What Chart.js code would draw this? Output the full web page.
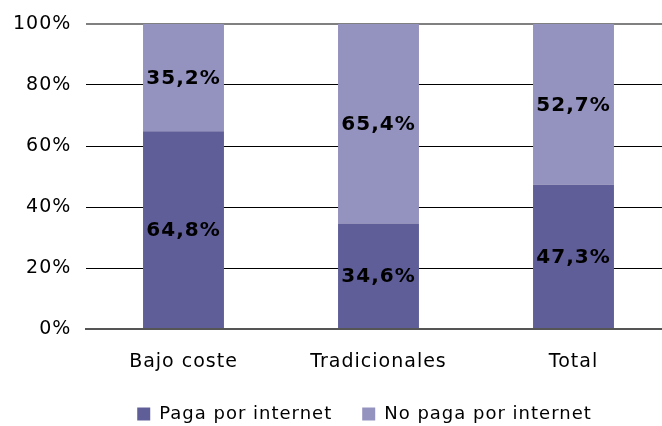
<!DOCTYPE html>
<html lang="es">
<head>
<meta charset="UTF-8">
<title>Paga por internet</title>
<script src="https://cdn.jsdelivr.net/npm/chart.js@4.4.1/dist/chart.umd.min.js"></script>
<style>
  html, body { margin: 0; padding: 0; background: #fff; overflow: hidden; }
  #wrap { width: 662px; height: 426px; overflow: hidden; position: relative; }
  #chart { position: absolute; left: 0; top: 0; }
</style>
</head>
<body>
<div id="wrap">
  <canvas id="chart" width="680" height="426"></canvas>
</div>
<script>
// categories and values
const categories = ['Bajo coste', 'Tradicionales', 'Total'];
const pagaValues = [64.8, 34.6, 47.3];
const noPagaValues = [35.2, 65.4, 52.7];
const yTicks = [0, 20, 40, 60, 80, 100];

const FONT = 'DejaVu Sans';

// wide tracking like the original
const spacingPlugin = {
    id: 'spacing',
    beforeUpdate(chart) { chart.ctx.letterSpacing = '1px'; },
    beforeDraw(chart) { chart.ctx.letterSpacing = '1px'; }
};

// value labels in the middle of each segment
const valueLabels = {
    id: 'valueLabels',
    afterDatasetsDraw(chart) {
        const ctx = chart.ctx;
        ctx.save();
        ctx.letterSpacing = '1px';
        ctx.font = 'bold 20px "' + FONT + '"';
        ctx.fillStyle = '#000';
        ctx.textAlign = 'center';
        ctx.textBaseline = 'middle';
        chart.data.datasets.forEach((ds, i) => {
            const meta = chart.getDatasetMeta(i);
            meta.data.forEach((bar, j) => {
                const p = bar.getProps(['x', 'y', 'base'], true);
                const txt = ds.data[j].toFixed(1).replace('.', ',') + '%';
                ctx.fillText(txt, p.x, (p.y + p.base) / 2 + 1);
            });
        });
        ctx.restore();
    }
};

const ctx = document.getElementById('chart').getContext('2d');
const chart = new Chart(ctx, {
    type: 'bar',
    data: {
        labels: categories,
        datasets: [
            {
                label: 'Paga por internet',
                data: pagaValues,
                backgroundColor: '#605E99',
                barPercentage: 0.415,
                categoryPercentage: 1
            },
            {
                label: 'No paga por internet',
                data: noPagaValues,
                backgroundColor: '#9492BE',
                barPercentage: 0.415,
                categoryPercentage: 1
            }
        ]
    },
    options: {
        responsive: false,
        animation: false,
        devicePixelRatio: 1,
        layout: { padding: { left: 58, right: 9, top: 24, bottom: -7 } },
        plugins: {
            legend: {
                position: 'bottom',
                labels: {
                    boxWidth: 13,
                    boxHeight: 13,
                    padding: 30,
                    color: '#000',
                    font: { family: FONT, size: 18 }
                }
            },
            tooltip: { enabled: false }
        },
        scales: {
            x: {
                stacked: true,
                grid: { display: false, drawTicks: false },
                border: { display: true, color: '#555', width: 2 },
                ticks: { color: '#000', padding: 22, font: { family: FONT, size: 19 } },
                afterFit: s => { s.height = 46; }
            },
            y: {
                stacked: true,
                min: 0,
                max: 100,
                afterBuildTicks: s => { s.ticks = yTicks.map(v => ({ value: v })); },
                grid: {
                    drawTicks: false,
                    color: c => c.tick.value === 100 ? '#808080' : (c.tick.value === 0 ? '#555' : '#000'),
                    lineWidth: c => (c.tick.value === 100 || c.tick.value === 0) ? 2 : 1
                },
                border: { display: false },
                ticks: {
                    color: '#000',
                    mirror: true,
                    crossAlign: 'far',
                    padding: -73,
                    font: { family: FONT, size: 19 },
                    callback: v => v + '%'
                },
                afterFit: s => { s.width = 28; }
            }
        }
    },
    plugins: [spacingPlugin, valueLabels]
});
</script>
</body>
</html>
